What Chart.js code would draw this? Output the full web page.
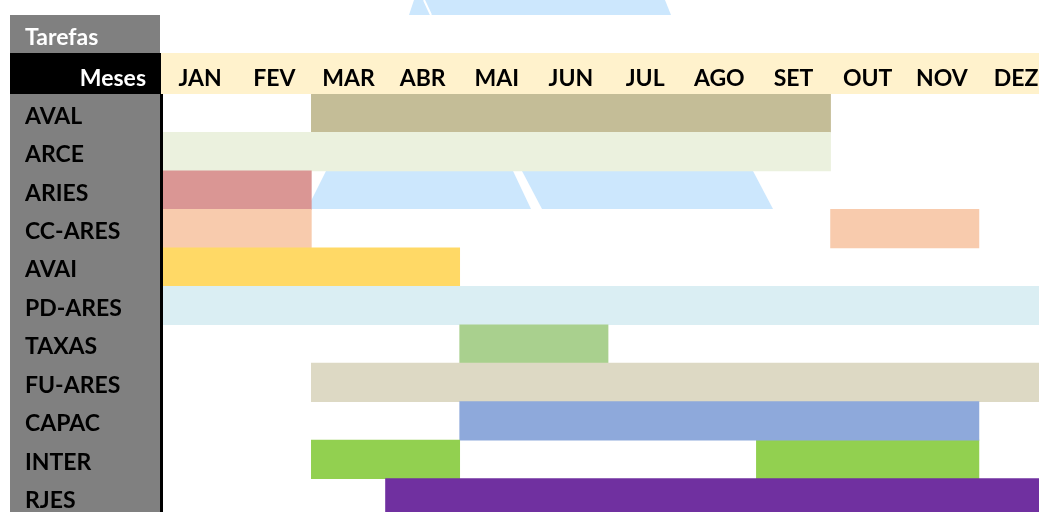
<!DOCTYPE html>
<html>
<head>
<meta charset="utf-8">
<script src="https://cdn.jsdelivr.net/npm/chart.js@4/dist/chart.umd.min.js"></script>
<style>
  html, body { margin: 0; padding: 0; background: #fff; overflow: hidden; }
</style>
</head>
<body>
<canvas id="gantt" width="1039" height="517"></canvas>
<script>
const meses = ["JAN", "FEV", "MAR", "ABR", "MAI", "JUN", "JUL", "AGO", "SET", "OUT", "NOV", "DEZ"];
const tarefas = ["AVAL", "ARCE", "ARIES", "CC-ARES", "AVAI", "PD-ARES", "TAXAS", "FU-ARES", "CAPAC", "INTER", "RJES"];
// month index where each bar starts / ends (end exclusive)
const periodo1 = [[2, 9], [0, 9], [0, 2], [0, 2], [0, 4], [0, 12], [4, 6], [2, 12], [4, 11], [2, 4], [3, 12]];
const periodo2 = [null, null, null, [9, 11], null, null, null, null, null, [8, 11], null];
const cores = ["#C4BD97", "#EBF1DE", "#DA9694", "#F8CBAD", "#FFD966", "#DAEEF3", "#A9D08E", "#DDD9C4", "#8EA9DB", "#92D050", "#7030A0"];

const fonte = "Lato";
const tamanho = 23;

// cell backgrounds, header text and the faded logo pieces
const fundoPlugin = {
  id: "fundo",
  beforeDraw(chart) {
    const ctx = chart.ctx;
    const area = chart.chartArea;
    const xs = chart.scales.x;
    ctx.save();
    ctx.fillStyle = "#fff";
    ctx.fillRect(0, 0, chart.width, chart.height);

    // logo pieces
    ctx.fillStyle = "#CCE7FD";
    const pecas = [
      [[414, 0], [665, 0], [671, 15], [409, 15]],
      [[326, 171], [513, 171], [531, 209], [307, 209]],
      [[522, 171], [753, 171], [773, 209], [542, 209]]
    ];
    pecas.forEach(p => {
      ctx.beginPath();
      ctx.moveTo(p[0][0], p[0][1]);
      for (let i = 1; i < p.length; i++) ctx.lineTo(p[i][0], p[i][1]);
      ctx.closePath();
      ctx.fill();
    });
    ctx.strokeStyle = "#fff";
    ctx.lineWidth = 2;
    ctx.beginPath();
    ctx.moveTo(424, 0);
    ctx.lineTo(431, 15);
    ctx.stroke();

    // left column
    ctx.fillStyle = "#808080";
    ctx.fillRect(10, 15, area.left - 13, chart.height - 15);
    ctx.fillStyle = "#000";
    ctx.fillRect(10, xs.top, area.left - 12, xs.bottom - xs.top);
    ctx.fillStyle = "#FFF2CC";
    ctx.fillRect(area.left - 2, xs.top, chart.width - area.left + 2, xs.bottom - xs.top);

    ctx.fillStyle = "#fff";
    ctx.font = "bold " + tamanho + "px " + fonte;
    ctx.textBaseline = "middle";
    ctx.textAlign = "left";
    ctx.fillText("Tarefas", 25, 38);
    ctx.textAlign = "right";
    ctx.fillText("Meses", 146, 79);
    ctx.restore();
  },
  afterDatasetsDraw(chart) {
    const ctx = chart.ctx;
    const area = chart.chartArea;
    ctx.save();
    ctx.fillStyle = "#000";
    ctx.fillRect(area.left - 3, area.top, 3, chart.height - area.top);
    ctx.restore();
  }
};

new Chart("gantt", {
  type: "bar",
  data: {
    labels: tarefas,
    datasets: [
      {
        data: periodo1,
        backgroundColor: cores,
        barPercentage: 1,
        categoryPercentage: 1,
        grouped: false,
        borderWidth: 0
      },
      {
        data: periodo2,
        backgroundColor: cores,
        barPercentage: 1,
        categoryPercentage: 1,
        grouped: false,
        borderWidth: 0
      }
    ]
  },
  options: {
    indexAxis: "y",
    responsive: false,
    animation: false,
    layout: { padding: { left: 25, top: 53, right: 0, bottom: 0 } },
    plugins: {
      legend: { display: false },
      tooltip: { enabled: false }
    },
    scales: {
      x: {
        type: "linear",
        position: "top",
        min: 0,
        max: 11.81,
        afterFit(scale) {
          scale.height = 41;
          scale.paddingLeft = 0;
          scale.paddingRight = 0;
        },
        afterBuildTicks(scale) {
          scale.ticks = meses.map((m, i) => ({ value: i + 0.5 }));
        },
        grid: { display: false, drawTicks: false },
        border: { display: false },
        ticks: {
          autoSkip: false,
          maxRotation: 0,
          padding: 2,
          color: "#000",
          font: { family: fonte, size: tamanho, weight: "bold" },
          callback: v => meses[Math.floor(v)]
        }
      },
      y: {
        afterFit(scale) {
          scale.width = 138;
          scale.paddingTop = 0;
          scale.paddingBottom = 0;
        },
        grid: { display: false, drawTicks: false },
        border: { display: false },
        ticks: {
          crossAlign: "far",
          padding: 0,
          labelOffset: 3,
          color: "#000",
          font: { family: fonte, size: tamanho, weight: "bold" }
        }
      }
    }
  },
  plugins: [fundoPlugin]
});
</script>
</body>
</html>
